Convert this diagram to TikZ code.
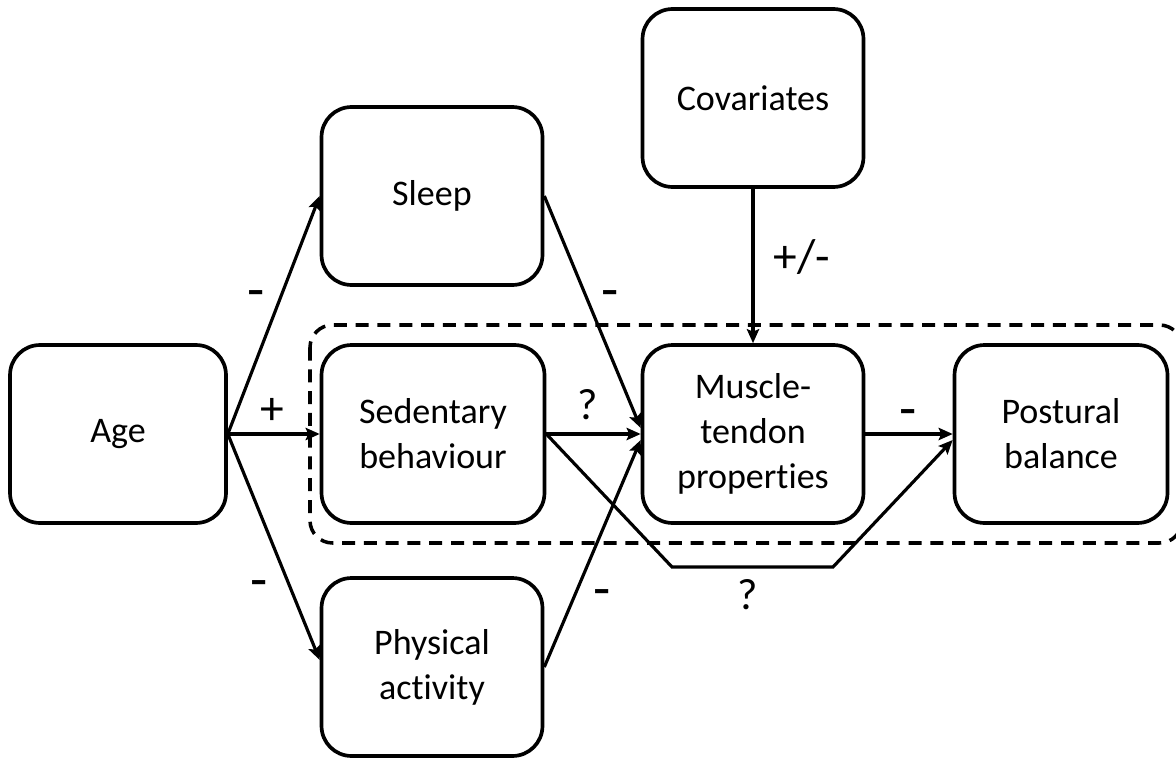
\documentclass[tikz,border=0pt]{standalone}
\usepackage{fontspec}
\setmainfont{Carlito}[Ligatures=NoCommon]
\usetikzlibrary{arrows.meta}

\begin{document}
\begin{tikzpicture}[
  x=0.02cm, y=-0.02cm,
  box/.style={draw, rounded corners=0.6cm, line width=2.1pt, minimum width=#1, minimum height=3.56cm, align=center, inner sep=2pt, font=\fontsize{20.5}{25.5}\selectfont},
  box/.default=4.42cm,
  arr/.style={-{Stealth[length=8pt, width=7pt, inset=1.5pt]}, line width=1.8pt},
  lbl/.style={anchor=base, inner sep=0pt, font=\fontsize{#1}{#1}\selectfont},
  lbl/.default=25,
  grp/.style={draw, line width=2pt, dash pattern=on 7.4pt off 5pt, rounded corners=0.45cm},
]
  \useasboundingbox (0,0) rectangle (1176,757);
  \draw[grp] (310,325) rectangle (1182,543);

  \node[box=4.32cm] (age) at (118,434) {Age};
  \node[box] (slp) at (432,196) {Sleep};
  \node[box=4.46cm] (sed) at (433,434) {Sedentary\\behaviour};
  \node[box] (phy) at (432,667) {Physical\\activity};
  \node[box] (cov) at (753,98) {Covariates};
  \node[box] (mus) at (753,434) {Muscle-\\tendon\\properties};
  \node[box=4.26cm] (pos) at (1061,434) {Postural\\balance};

  \coordinate (bl) at (672,567);
  \coordinate (br) at (833,567);

  \draw[arr] (age.east) -- (slp.west);
  \draw[arr] (age.east) -- (sed.west);
  \draw[arr] (age.east) -- ([yshift=0.14cm]phy.west);
  \draw[arr] (slp.east) -- ([yshift=0.12cm]mus.west);
  \draw[arr] (sed.east) -- (mus.west);
  \draw[arr] (phy.east) -- ([yshift=-0.12cm]mus.west);
  \draw[arr] (sed.east) -- (bl) -- (br) -- ([yshift=-0.12cm]pos.west);
  \draw[arr] (mus.east) -- (pos.west);
  \draw[arr] (cov.south) -- (mus.north);

  \node[lbl=32] (l1) at (256,308) {-};
  \node[lbl=27] (l2) at (272,424) {+};
  \node[lbl=32] (l3) at (259,598) {-};
  \node[lbl=32] (l4) at (610,308) {-};
  \node[lbl] (l5) at (588,419) {?};
  \node[lbl=32] (l6) at (908,427) {-};
  \node[lbl=27] (l7) at (802,272) {+/-};
  \node[lbl=32] (l8) at (602,607) {-};
  \node[lbl] (l9) at (748,609) {?};
\end{tikzpicture}
\end{document}
